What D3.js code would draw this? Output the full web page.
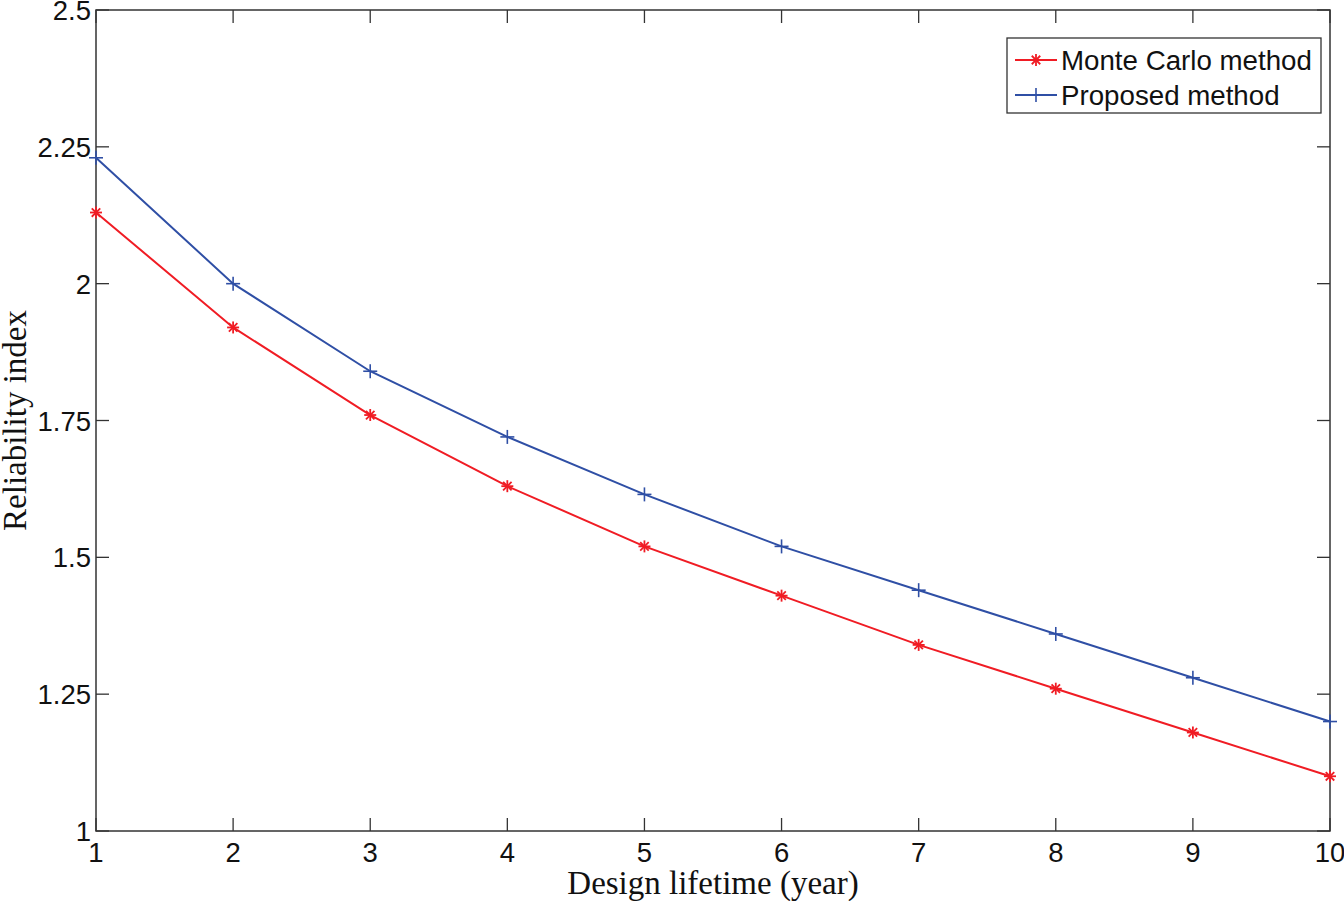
<!DOCTYPE html>
<html><head><meta charset="utf-8">
<script src="https://cdn.jsdelivr.net/npm/d3@7"></script>
<style>body{margin:0;background:#fff}</style>
</head><body>
<svg id="c" width="1344" height="901"></svg>
<script>
const years = [1,2,3,4,5,6,7,8,9,10];
const monteCarlo = [2.13,1.92,1.76,1.63,1.52,1.43,1.34,1.26,1.18,1.10];
const proposed = [2.23,2.00,1.84,1.72,1.615,1.52,1.44,1.36,1.28,1.20];
const xTicks = [1,2,3,4,5,6,7,8,9,10];
const yTicks = [1,1.25,1.5,1.75,2,2.25,2.5];
const yTickLabels = ["1","1.25","1.5","1.75","2","2.25","2.5"];
const seriesNames = ["Monte Carlo method","Proposed method"];

const svg = d3.select("#c");
const L=96, R=1330, T=10, B=831;
const x = d3.scaleLinear().domain([1,10]).range([L,R]);
const y = d3.scaleLinear().domain([1,2.5]).range([B,T]);
const axisColor="#333";
const tl=13;
const sans="Liberation Sans, Arial, sans-serif";

const g = svg.append("g");
xTicks.forEach(t=>{
  g.append("line").attr("x1",x(t)).attr("x2",x(t)).attr("y1",B).attr("y2",B-tl).attr("stroke",axisColor).attr("stroke-width",1.3);
  g.append("line").attr("x1",x(t)).attr("x2",x(t)).attr("y1",T).attr("y2",T+tl).attr("stroke",axisColor).attr("stroke-width",1.3);
  g.append("text").attr("x",x(t)).attr("y",B+31).attr("text-anchor","middle")
    .attr("font-family",sans).attr("font-size",27.5).attr("fill","#111").text(t);
});
yTicks.forEach((t,i)=>{
  g.append("line").attr("x1",L).attr("x2",L+tl).attr("y1",y(t)).attr("y2",y(t)).attr("stroke",axisColor).attr("stroke-width",1.3);
  g.append("line").attr("x1",R).attr("x2",R-tl).attr("y1",y(t)).attr("y2",y(t)).attr("stroke",axisColor).attr("stroke-width",1.3);
  g.append("text").attr("x",L-5).attr("y",y(t)+10).attr("text-anchor","end")
    .attr("font-family",sans).attr("font-size",27.5).attr("fill","#111").text(yTickLabels[i]);
});
svg.append("rect").attr("x",L).attr("y",T).attr("width",R-L).attr("height",B-T)
  .attr("fill","none").attr("stroke",axisColor).attr("stroke-width",1.5);

const red="#f01c24", blue="#2f4fa5";
const line = d3.line().x((d,i)=>x(years[i])).y(d=>y(d));

function star(sel,cx,cy,s,c){
  const gg=sel.append("g").attr("stroke",c).attr("stroke-width",1.8);
  [0,45,90,135].forEach(a=>{
    const r=a*Math.PI/180;
    gg.append("line").attr("x1",cx-s*Math.cos(r)).attr("x2",cx+s*Math.cos(r))
      .attr("y1",cy-s*Math.sin(r)).attr("y2",cy+s*Math.sin(r));
  });
}
function plus(sel,cx,cy,s,c){
  const gg=sel.append("g").attr("stroke",c).attr("stroke-width",1.6);
  gg.append("line").attr("x1",cx-s).attr("x2",cx+s).attr("y1",cy).attr("y2",cy);
  gg.append("line").attr("x1",cx).attr("x2",cx).attr("y1",cy-s).attr("y2",cy+s);
}

svg.append("path").datum(proposed).attr("d",line).attr("fill","none").attr("stroke",blue).attr("stroke-width",2);
svg.append("path").datum(monteCarlo).attr("d",line).attr("fill","none").attr("stroke",red).attr("stroke-width",2);
proposed.forEach((v,i)=>plus(svg,x(years[i]),y(v),7,blue));
monteCarlo.forEach((v,i)=>star(svg,x(years[i]),y(v),6,red));

svg.append("text").attr("x",(L+R)/2).attr("y",894).attr("text-anchor","middle")
  .attr("font-family","Liberation Serif, Times New Roman, serif").attr("font-size",33).attr("fill","#111")
  .text("Design lifetime (year)");
svg.append("text").attr("transform",`translate(26,${(T+B)/2}) rotate(-90)`).attr("text-anchor","middle")
  .attr("font-family","Liberation Serif, Times New Roman, serif").attr("font-size",33).attr("fill","#111")
  .text("Reliability index");

const lg = svg.append("g");
lg.append("rect").attr("x",1007).attr("y",38).attr("width",314).attr("height",75)
  .attr("fill","#fff").attr("stroke",axisColor).attr("stroke-width",1.3);
const rows=[{n:seriesNames[0],c:red,m:"star",yy:60},{n:seriesNames[1],c:blue,m:"plus",yy:95}];
rows.forEach(r=>{
  lg.append("line").attr("x1",1015).attr("x2",1057).attr("y1",r.yy).attr("y2",r.yy).attr("stroke",r.c).attr("stroke-width",2);
  if(r.m==="star") star(lg,1036,r.yy,6,r.c); else plus(lg,1036,r.yy,7,r.c);
  lg.append("text").attr("x",1061).attr("y",r.yy+10).attr("font-family",sans)
    .attr("font-size",27.7).attr("fill","#111").text(r.n);
});
</script>
</body></html>
